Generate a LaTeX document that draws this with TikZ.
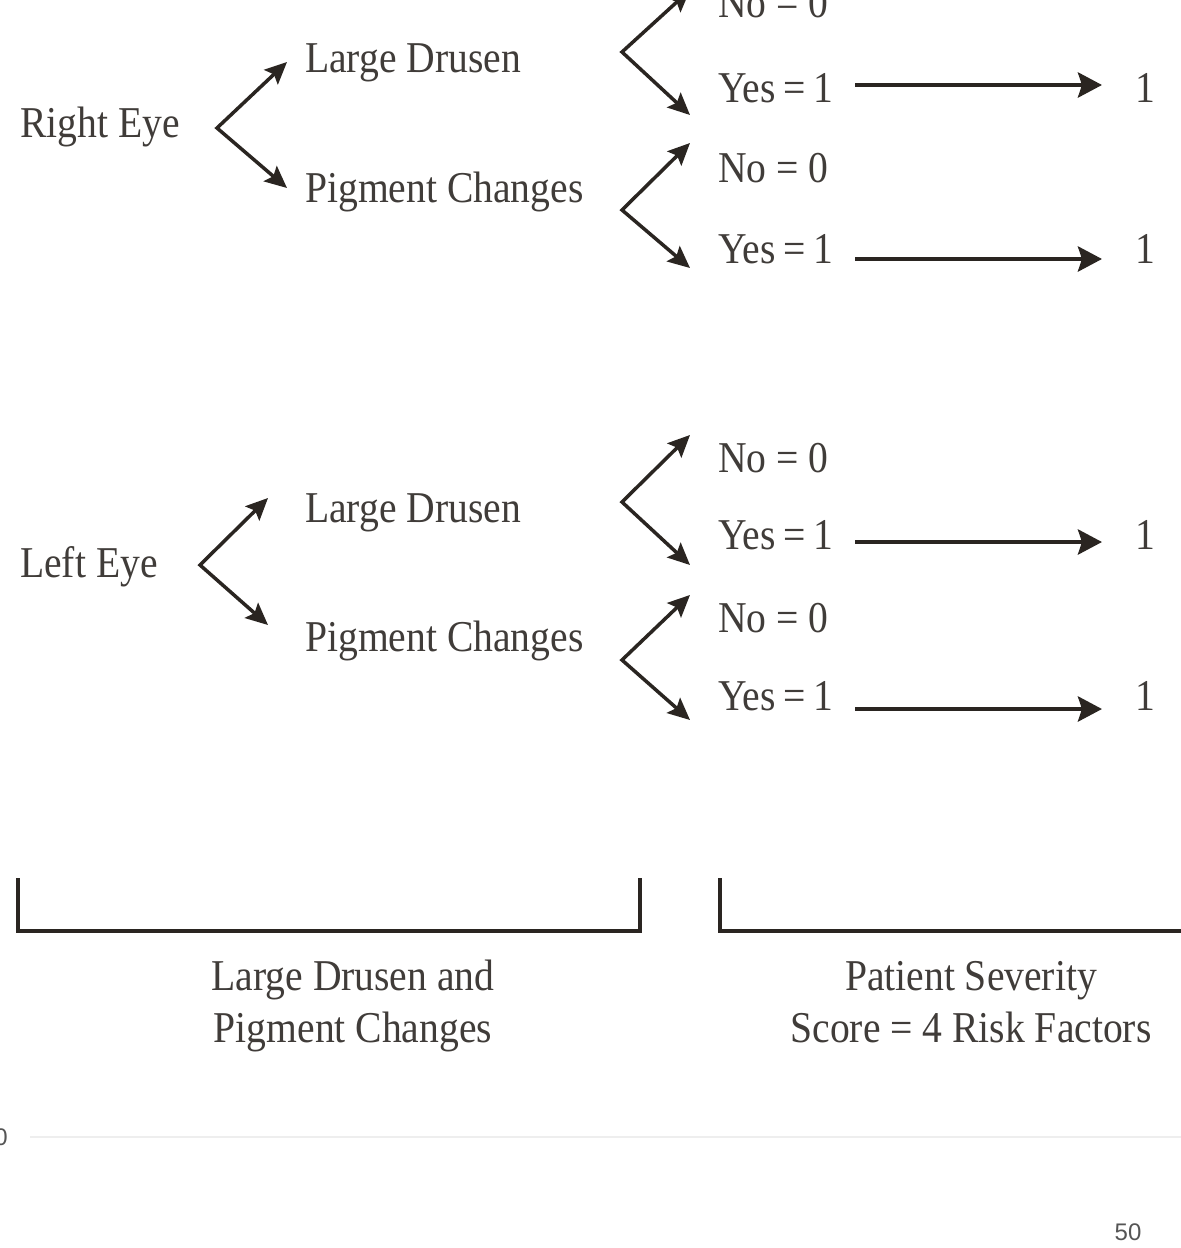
\documentclass[tikz,border=0pt]{standalone}
\usepackage{fontspec}
\setmainfont{Liberation Serif}[FakeStretch=0.9]
\newfontfamily\axisfont{Liberation Sans}
\usetikzlibrary{arrows.meta}
\definecolor{ink}{HTML}{403C39}
\definecolor{arrowink}{HTML}{2A2521}
\definecolor{axisgray}{HTML}{EEEEEE}
\definecolor{axistext}{HTML}{555555}
\newcommand{\yesone}{Yes\hspace{0.17em}=\hspace{0.17em}1}
\begin{document}
\begin{tikzpicture}[x=1pt,y=-1pt,
  lbl/.style={font=\fontsize{44}{50}\selectfont, text=ink, inner sep=0pt, anchor=base},
  lblw/.style={lbl, anchor=base west},
  chev/.style={draw=arrowink, line width=3.5pt, {Stealth[length=22pt,width=20pt,inset=4pt]}-{Stealth[length=22pt,width=20pt,inset=4pt]}},
  harr/.style={draw=arrowink, line width=4.5pt, -{Stealth[length=24pt,width=25pt,inset=4pt]}},
  brk/.style={draw=arrowink, line width=4.5pt},
  axl/.style={font=\axisfont\fontsize{24}{28}\selectfont, text=axistext, inner sep=0pt},
]
\clip (0,0) rectangle (1181,1248);
\fill[white] (0,0) rectangle (1181,1248);

% ---------- Right eye ----------
\node[lblw] (re) at (20,137) {Right Eye};
\node[lblw] (reld) at (305,72) {Large Drusen};
\node[lblw] (repc) at (305,202) {Pigment Changes};
\node[lblw] (reldno) at (718,17) {No = 0};
\node[lblw] (reldyes) at (718,102) {\yesone};
\node[lblw] (repcno) at (718,182) {No = 0};
\node[lblw] (repcyes) at (718,263) {\yesone};
\node[lbl] (reone1) at (1145,102) {1};
\node[lbl] (reone2) at (1145,263) {1};

\coordinate (reV) at (217,128);
\coordinate (reT1) at (287,62);
\coordinate (reT2) at (287,188);
\draw[chev] (reT1) -- (reV) -- (reT2);

\coordinate (reldV) at (622,52);
\coordinate (reldT1) at (690,-10);
\coordinate (reldT2) at (690,115);
\draw[chev] (reldT1) -- (reldV) -- (reldT2);

\coordinate (repcV) at (622,210);
\coordinate (repcT1) at (690,143);
\coordinate (repcT2) at (690,268);
\draw[chev] (repcT1) -- (repcV) -- (repcT2);

\coordinate (reA1s) at (855,85);
\coordinate (reA1e) at (1102,85);
\draw[harr] (reA1s) -- (reA1e);
\coordinate (reA2s) at (855,259);
\coordinate (reA2e) at (1102,259);
\draw[harr] (reA2s) -- (reA2e);

% ---------- Left eye ----------
\node[lblw] (le) at (20,577) {Left Eye};
\node[lblw] (leld) at (305,522) {Large Drusen};
\node[lblw] (lepc) at (305,651) {Pigment Changes};
\node[lblw] (leldno) at (718,472) {No = 0};
\node[lblw] (leldyes) at (718,549) {\yesone};
\node[lblw] (lepcno) at (718,632) {No = 0};
\node[lblw] (lepcyes) at (718,710) {\yesone};
\node[lbl] (leone1) at (1145,549) {1};
\node[lbl] (leone2) at (1145,710) {1};

\coordinate (leV) at (200,565);
\coordinate (leT1) at (268,498);
\coordinate (leT2) at (268,625);
\draw[chev] (leT1) -- (leV) -- (leT2);

\coordinate (leldV) at (622,502);
\coordinate (leldT1) at (690,435);
\coordinate (leldT2) at (690,565);
\draw[chev] (leldT1) -- (leldV) -- (leldT2);

\coordinate (lepcV) at (622,660);
\coordinate (lepcT1) at (690,595);
\coordinate (lepcT2) at (690,720);
\draw[chev] (lepcT1) -- (lepcV) -- (lepcT2);

\coordinate (leA1s) at (855,542);
\coordinate (leA1e) at (1102,542);
\draw[harr] (leA1s) -- (leA1e);
\coordinate (leA2s) at (855,709);
\coordinate (leA2e) at (1102,709);
\draw[harr] (leA2s) -- (leA2e);

% ---------- Brackets ----------
\coordinate (bl1) at (18,878);
\coordinate (bl2) at (18,931);
\coordinate (bl3) at (640,931);
\coordinate (bl4) at (640,878);
\draw[brk] (bl1) -- (bl2) -- (bl3) -- (bl4);
\coordinate (br1) at (720,878);
\coordinate (br2) at (720,931);
\coordinate (br3) at (1190,931);
\draw[brk] (br1) -- (br2) -- (br3);

\node[lbl] (capl1) at (353,990) {Large Drusen and};
\node[lbl] (capl2) at (353,1042) {Pigment Changes};
\node[lbl] (capr1) at (971,990) {Patient Severity};
\node[lbl] (capr2) at (971,1042) {Score = 4 Risk Factors};

% ---------- axis remnants ----------
\coordinate (ax1) at (30,1137);
\coordinate (ax2) at (1181,1137);
\draw[axisgray, line width=2pt] (ax1) -- (ax2);
\node[axl] (ax0) at (1,1137) {0};
\node[axl] (ax50) at (1128,1232) {50};
\end{tikzpicture}
\end{document}
